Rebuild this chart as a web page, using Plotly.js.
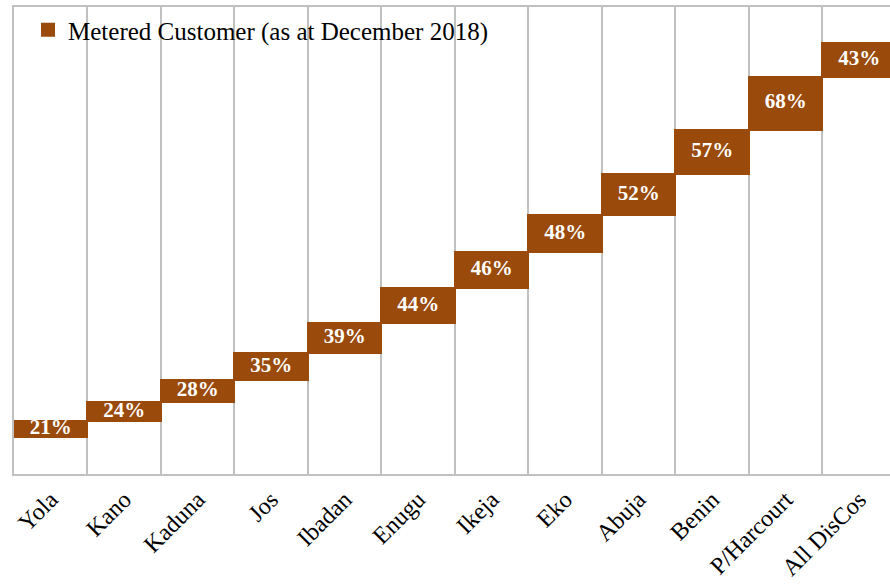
<!DOCTYPE html>
<html>
<head>
<meta charset="utf-8">
<script src="https://cdn.plot.ly/plotly-3.0.1.min.js"></script>
<style>html,body{margin:0;padding:0;overflow:hidden;background:#fff;}</style>
</head>
<body>
<div id="chart" style="width:890px;height:587px;"></div>
<script>
// Data
const categories = ["Yola","Kano","Kaduna","Jos","Ibadan","Enugu","Ikeja","Eko","Abuja","Benin","P/Harcourt","All DisCos"];
const meteredPct = [21, 24, 28, 35, 39, 44, 46, 48, 52, 57, 68, 43];
const startOffset = 47; // invisible base under the first bar
const seriesName = "Metered Customer (as at December 2018)";

// waterfall: each bar starts where previous ended
const base = [];
let acc = startOffset;
for (let i = 0; i < meteredPct.length; i++) { base.push(acc); acc += meteredPct[i]; }
const mid = meteredPct.map((v, i) => base[i] + v / 2);
const labels = meteredPct.map(v => v + "%");

const brown = "#9a4a0a";
const serif = "Liberation Serif, Times New Roman, serif";

const traces = [
  {type: "bar", x: categories, y: base, marker: {color: "rgba(0,0,0,0)"}, showlegend: false, hoverinfo: "skip"},
  {type: "bar", x: categories, y: meteredPct, name: seriesName, marker: {color: brown, line: {color: brown, width: 2}}},
  {type: "scatter", mode: "text", x: categories, y: mid, text: labels, showlegend: false, hoverinfo: "skip",
   textposition: "middle center", cliponaxis: false,
   textfont: {family: serif, size: 21, color: "#ffffff", weight: "bold"}}
];

const layout = {
  width: 890, height: 587,
  margin: {l: 14, r: 0, t: 7, b: 113},
  barmode: "stack", bargap: 0,
  paper_bgcolor: "#ffffff", plot_bgcolor: "#ffffff",
  showlegend: true,
  legend: {x: 0.016, y: 1.0, xanchor: "left", yanchor: "top", bgcolor: "rgba(0,0,0,0)",
           font: {family: serif, size: 25, color: "#000"}},
  xaxis: {type: "category", range: [-0.5, 11.42], tickson: "boundaries", showgrid: true,
          gridcolor: "#c0c0c0", gridwidth: 2, showline: true, linecolor: "#c0c0c0", linewidth: 2,
          mirror: true, ticks: "", tickangle: -45, tickfont: {family: serif, size: 24, color: "#000"}},
  yaxis: {range: [0, 598], showgrid: false, zeroline: false, showticklabels: false, ticks: "",
          showline: true, linecolor: "#c0c0c0", linewidth: 2}
};

Plotly.newPlot("chart", traces, layout, {displayModeBar: false, staticPlot: true});
</script>
</body>
</html>
